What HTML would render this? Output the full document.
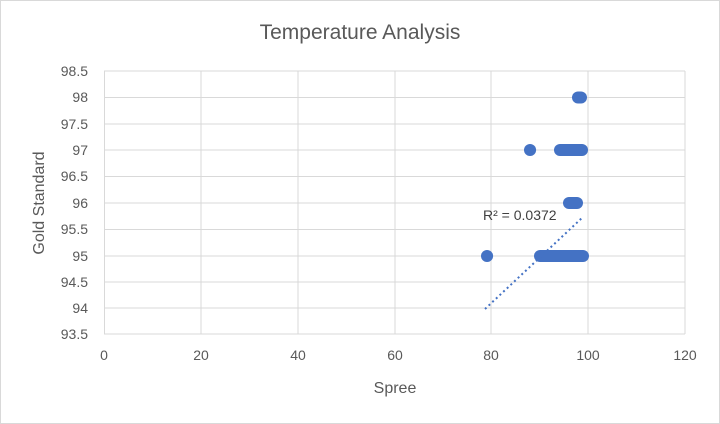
<!DOCTYPE html>
<html><head><style>
body{margin:0;background:#fff}
svg{display:block;font-family:"Liberation Sans",sans-serif}
</style></head><body>
<svg width="720" height="424" viewBox="0 0 720 424">
<rect x="0.5" y="0.5" width="719" height="423" fill="#fff" stroke="#d9d9d9"/>
<text x="360" y="39" font-size="21" fill="#595959" text-anchor="middle">Temperature Analysis</text>
<g stroke="#d9d9d9" stroke-width="1">
<line x1="104" y1="71" x2="685" y2="71"/>
<line x1="104" y1="97.5" x2="685" y2="97.5"/>
<line x1="104" y1="124" x2="685" y2="124"/>
<line x1="104" y1="150" x2="685" y2="150"/>
<line x1="104" y1="176.5" x2="685" y2="176.5"/>
<line x1="104" y1="203" x2="685" y2="203"/>
<line x1="104" y1="229.5" x2="685" y2="229.5"/>
<line x1="104" y1="256" x2="685" y2="256"/>
<line x1="104" y1="282" x2="685" y2="282"/>
<line x1="104" y1="308" x2="685" y2="308"/>
<line x1="104" y1="334" x2="685" y2="334"/>
<line x1="104.5" y1="71" x2="104.5" y2="334"/>
<line x1="201" y1="71" x2="201" y2="334"/>
<line x1="298" y1="71" x2="298" y2="334"/>
<line x1="395" y1="71" x2="395" y2="334"/>
<line x1="491" y1="71" x2="491" y2="334"/>
<line x1="588" y1="71" x2="588" y2="334"/>
<line x1="685" y1="71" x2="685" y2="334"/>
</g>
<g font-size="14" fill="#595959" text-anchor="end">
<text x="88" y="76">98.5</text><text x="88" y="102">98</text><text x="88" y="129">97.5</text>
<text x="88" y="155">97</text><text x="88" y="181">96.5</text><text x="88" y="208">96</text>
<text x="88" y="234">95.5</text><text x="88" y="261">95</text><text x="88" y="287">94.5</text>
<text x="88" y="313">94</text><text x="88" y="339">93.5</text>
</g>
<g font-size="14" fill="#595959" text-anchor="middle">
<text x="104" y="360">0</text><text x="201" y="360">20</text><text x="298" y="360">40</text>
<text x="395" y="360">60</text><text x="491" y="360">80</text><text x="588" y="360">100</text>
<text x="685" y="360">120</text>
<text x="395" y="393" font-size="16">Spree</text>
</g>
<text transform="translate(44,203) rotate(-90)" font-size="16" fill="#595959" text-anchor="middle">Gold Standard</text>
<g stroke="#4472c4" stroke-width="12" stroke-linecap="round">
<line x1="578" y1="97.5" x2="581" y2="97.5"/>
<line x1="530" y1="150" x2="530.1" y2="150"/>
<line x1="560" y1="150" x2="582" y2="150"/>
<line x1="569" y1="203" x2="577" y2="203"/>
<line x1="487" y1="256" x2="487.1" y2="256"/>
<line x1="540" y1="256" x2="583" y2="256"/>
</g>
<line x1="485" y1="309" x2="583" y2="217" stroke="#4472c4" stroke-width="2" stroke-dasharray="2,3"/>
<text x="483" y="220" font-size="14" fill="#404040">R² = 0.0372</text>
</svg>
</body></html>
